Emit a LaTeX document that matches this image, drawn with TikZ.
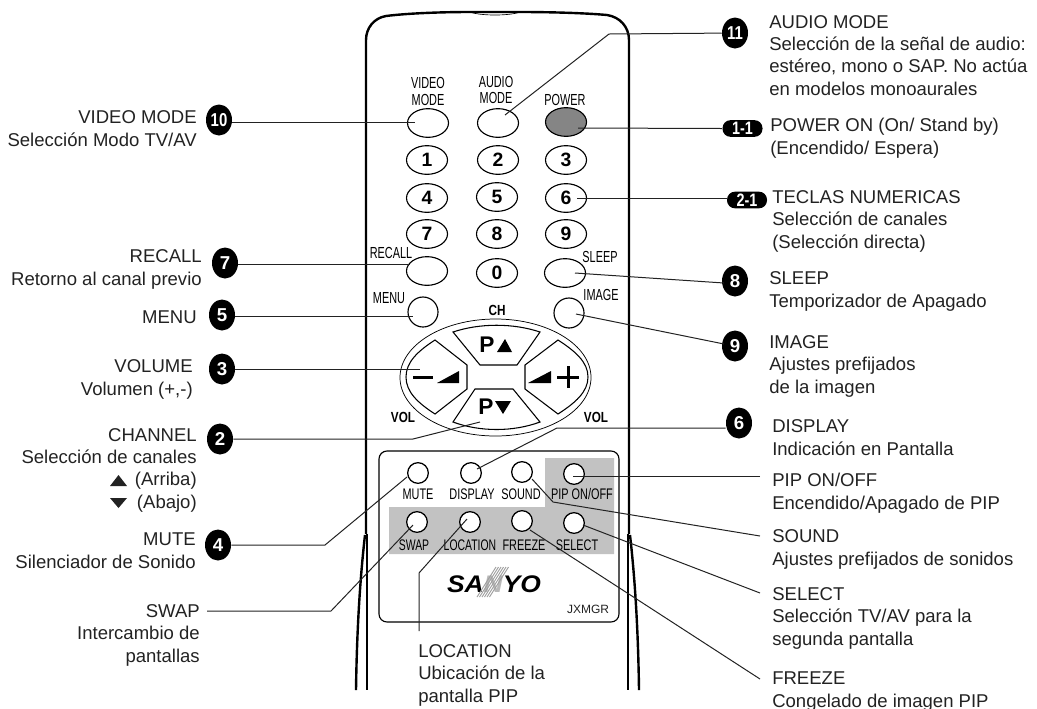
\documentclass[tikz,border=0pt]{standalone}
\usepackage{fontspec}
\setmainfont{Liberation Sans}
\newfontfamily\narf[FakeStretch=0.68]{Liberation Sans}
\newfontfamily\narg[FakeStretch=0.71]{Liberation Sans}
\newfontfamily\narb[FakeStretch=0.8]{Liberation Sans}
\newfontfamily\narc[FakeStretch=0.8]{Liberation Sans}
\newfontfamily\logof[FakeStretch=1.1]{Liberation Sans}
\usetikzlibrary{shapes.geometric}
\definecolor{ink}{HTML}{222222}
\definecolor{panelgray}{HTML}{C2C2C2}
\definecolor{pwrgray}{HTML}{858585}
\tikzset{
  x=0.75pt,y=-0.75pt,
  body/.style={line width=1.8pt,black},
  thinbody/.style={line width=0.9pt,black},
  btn/.style={draw=black,line width=0.85pt,ellipse,inner sep=0pt,minimum width=30.75pt,minimum height=21.5pt,font=\fontsize{14.5}{15}\selectfont\bfseries},
  rbtn/.style={draw=black,line width=0.85pt,circle,inner sep=0pt,minimum size=22.5pt},
  sbtn/.style={draw=black,line width=0.95pt,fill=white,circle,inner sep=0pt,minimum size=15.5pt},
  lab/.style={inner sep=0pt,text=ink,font=\fontsize{13.9}{16.6}\selectfont},
  labl/.style={lab,anchor=base west,align=left},
  labr/.style={lab,anchor=base east,align=right},
  keytxt/.style={inner sep=0pt,anchor=base,text=black,align=center,font=\fontsize{12}{12}\selectfont\narf},
  pantxt/.style={inner sep=0pt,anchor=base,text=black,font=\fontsize{11.5}{12}\selectfont\narg},
  boldtxt/.style={inner sep=0pt,anchor=base,font=\fontsize{11}{12}\selectfont\narb\bfseries},
  badge/.style={ellipse,fill=black,text=white,inner sep=0pt,minimum width=19.5pt,minimum height=23.25pt,font=\fontsize{14}{14}\selectfont\bfseries},
  pill/.style={rectangle,rounded corners=6pt,fill=black,text=white,inner sep=0pt,minimum width=30pt,minimum height=12.5pt,font=\fontsize{13.5}{13.5}\selectfont\bfseries},
  lead/.style={line width=0.75pt,ink},
  rockr/.style={line width=0.8pt,black},
  hatch/.style={line width=0.7pt,gray!75},
}
\begin{document}
\begin{tikzpicture}
\useasboundingbox (0,0) rectangle (1037,708);

% remote body
\draw[body] (366,534) -- (366,40) .. controls (366,28) and (374,18) .. (386,16) .. controls (410,13) and (445,12) .. (470,12) -- (520,12) .. controls (550,12) and (585,13) .. (607,15) .. controls (620,17) and (629,27) .. (629,40) -- (629,534);
\draw[line width=0.5pt] (470,12) .. controls (480,16) and (510,16) .. (520,12);
\draw[thinbody] (367,534) -- (367,690);
\draw[thinbody] (628,534) -- (628,690);
\draw[body] (365,535) .. controls (361,570) and (357,620) .. (356,690);
\draw[body] (630,535) .. controls (634,570) and (638,620) .. (639,690);

% top keys
\node[btn] (videokey) at (428,123) {};
\node[btn] (audiokey) at (498,123) {};
\node[btn,fill=pwrgray] (powerkey) at (566,122) {};
\node[btn] (k1) at (427,160) {1};
\node[btn] (k2) at (498,160) {2};
\node[btn] (k3) at (566,160) {3};
\node[btn] (k4) at (427,198) {4};
\node[btn] (k5) at (497,197) {5};
\node[btn] (k6) at (566,198) {6};
\node[btn] (k7) at (427,234) {7};
\node[btn] (k8) at (497,234) {8};
\node[btn] (k9) at (566,234) {9};
\node[btn] (recallkey) at (427,271) {};
\node[btn] (k0) at (497,273) {0};
\node[btn] (sleepkey) at (565,273) {};
\node[rbtn] (menukey) at (423,312) {};
\node[rbtn] (imagekey) at (569,313) {};

\node[keytxt] (tvideo) at (428,88) {VIDEO};
\node[keytxt] (tvideo2) at (428,105) {MODE};
\node[keytxt] (taudio) at (496,87) {AUDIO};
\node[keytxt] (taudio2) at (496,103) {MODE};
\node[keytxt] (tpower) at (565,105) {POWER};
\node[keytxt] (trecall) at (391,258) {RECALL};
\node[keytxt] (tsleep) at (600,262) {SLEEP};
\node[keytxt] (tmenu) at (389,303) {MENU};
\node[keytxt] (timage) at (601,300) {IMAGE};
\node[boldtxt] (tch) at (497,315) {CH};
\node[boldtxt] (tvol1) at (403,422) {VOL};
\node[boldtxt] (tvol2) at (596,422) {VOL};

% rocker
\draw[line width=0.55pt] (495.5,377.5) ellipse [x radius=95.5,y radius=58.5];
\draw[rockr] (453,332) .. controls (480,323) and (513,323) .. (540,332) -- (517,365) -- (480,365) -- cycle;
\draw[rockr] (453,422) .. controls (480,432) and (513,432) .. (540,422) -- (513,389) -- (475,389) -- cycle;
\draw[rockr] (435,340) -- (467,365) -- (467,389) -- (435,414) .. controls (418,403) and (406,392) .. (406,377) .. controls (406,362) and (418,351) .. (435,340) -- cycle;
\draw[rockr] (558,340) -- (525,365) -- (525,389) -- (558,414) .. controls (575,403) and (588,392) .. (588,377) .. controls (588,362) and (575,351) .. (558,340) -- cycle;
\node[inner sep=0pt,anchor=base,font=\fontsize{17}{17}\selectfont\bfseries] (pup) at (487,352) {P};
\node[inner sep=0pt,anchor=base,font=\fontsize{17}{17}\selectfont\bfseries] (pdn) at (486,414) {P};
\fill (497,352) -- (512,352) -- (505,339) -- cycle;
\fill (495,401) -- (511,401) -- (503,414) -- cycle;
\fill (413,375.5) rectangle (433,378.5);
\fill (437,383) -- (459,371) -- (459,383) -- cycle;
\fill (528,383) -- (551,371) -- (551,383) -- cycle;
\fill (557,375.5) rectangle (579,378.5);
\fill (566.5,366) rectangle (569.5,388);

% PIP panel
\draw[line width=0.85pt,rounded corners=6pt] (379,451) rectangle (619,622);
\fill[panelgray] (545,458) -- (614,458) -- (614,554) -- (389,554) -- (389,507) -- (545,507) -- cycle;
\node[sbtn] (mutekey) at (418,473) {};
\node[sbtn] (dispkey) at (471,473) {};
\node[sbtn] (soundkey) at (522,472) {};
\node[sbtn] (pipkey) at (574,474) {};
\node[sbtn] (swapkey) at (417,522) {};
\node[sbtn] (lockey) at (470,522) {};
\node[sbtn] (frzkey) at (522,521) {};
\node[sbtn] (selkey) at (574,523) {};
\node[pantxt] (tmute) at (418,499) {MUTE};
\node[pantxt] (tdisp) at (472,499) {DISPLAY};
\node[pantxt] (tsound) at (521,499) {SOUND};
\node[pantxt] (tpip) at (582,499) {PIP ON/OFF};
\node[pantxt,font=\fontsize{11.5}{12}\selectfont\narf] (tswap) at (414,550) {SWAP};
\node[pantxt,font=\fontsize{11.5}{12}\selectfont\narf] (tloc) at (470,550) {LOCATION};
\node[pantxt] (tfrz) at (524,550) {FREEZE};
\node[pantxt] (tsel) at (577,550) {SELECT};
\node[inner sep=0pt,anchor=base,font=\fontsize{18}{18}\selectfont\logof\bfseries\itshape] (logo) at (494,592) {SA\textcolor{gray!55}{N}YO};
\foreach \s in {0,2.5,...,12.5}
  \draw[hatch] (477+\s,597) -- (496+\s,567);
\node[inner sep=0pt,anchor=base,text=ink,font=\fontsize{9}{9}\selectfont] (model) at (588,613) {JXMGR};

% badges
\node[badge] (n10) at (219,120) {\fontsize{14}{14}\selectfont\narc\bfseries 10};
\node[badge] (n7) at (225,263) {7};
\node[badge] (n5) at (222,315) {5};
\node[badge] (n3) at (222,369) {3};
\node[badge] (n2) at (220,439) {2};
\node[badge] (n4) at (218,545) {4};
\node[badge] (n11) at (735,33) {\fontsize{14}{14}\selectfont\narc\bfseries 11};
\node[pill] (n11p) at (742.5,128.5) {\narc\bfseries 1-1};
\node[pill] (n21p) at (747,200) {\narc\bfseries 2-1};
\node[badge] (n8) at (735,281) {8};
\node[badge] (n9) at (735,346) {9};
\node[badge] (n6) at (739,423) {6};

% connector ends
\coordinate (evideo) at (415,122);
\coordinate (eaudio) at (505,115);
\coordinate (eaudiob) at (609,34);
\coordinate (epower) at (578,128);
\coordinate (ek6) at (577,198);
\coordinate (erecall) at (410,264);
\coordinate (esleep) at (575,273);
\coordinate (emenu) at (413,316);
\coordinate (eimage) at (576,314);
\coordinate (evol) at (420,369);
\coordinate (echb) at (413,439);
\coordinate (ech) at (480,422);
\coordinate (edispb) at (557,428);
\coordinate (edisp) at (477,469);
\coordinate (emuteb) at (325,545);
\coordinate (emute) at (407,477);
\coordinate (sswap) at (207,611);
\coordinate (eswapb) at (331,611);
\coordinate (eswap) at (413,525);
\coordinate (sloc) at (419,631);
\coordinate (elocb) at (419,573);
\coordinate (eloc) at (467,519);
\coordinate (spip) at (760,476);
\coordinate (epip) at (573,476);
\coordinate (ssound) at (760,536);
\coordinate (esoundb) at (553,502);
\coordinate (esound) at (532,479);
\coordinate (ssel) at (760,593);
\coordinate (esel) at (583,525);
\coordinate (sfrz) at (760,679);
\coordinate (efrz) at (530,530);
\coordinate (n8e) at (724,283);
\coordinate (n9e) at (724,344);

% connectors
\draw[lead] (n10.east |- evideo) -- (evideo);
\draw[lead] (n11) -- (eaudiob) -- (eaudio);
\draw[lead] (n11p.west) -- (epower);
\draw[lead] (n21p.west |- ek6) -- (ek6);
\draw[lead] (n7.east |- erecall) -- (erecall);
\draw[lead] (n8e) -- (esleep);
\draw[lead] (n5.east |- emenu) -- (emenu);
\draw[lead] (n9e) -- (eimage);
\draw[lead] (n3.east) -- (evol);
\draw[lead] (n2.east) -- (echb) -- (ech);
\draw[lead] (n6.west |- edispb) -- (edispb) -- (edisp);
\draw[lead] (n4.east) -- (emuteb) -- (emute);
\draw[lead] (sswap) -- (eswapb) -- (eswap);
\draw[lead] (sloc) -- (elocb) -- (eloc);
\draw[lead] (spip) -- (epip);
\draw[lead] (ssound) -- (esoundb) -- (esound);
\draw[lead] (ssel) -- (esel);
\draw[lead] (sfrz) -- (efrz);

% left texts (the base anchor of a multi-line node is its last line)
\node[labr] (lvideo) at (197,146) {VIDEO MODE\\Selección Modo TV/AV};
\node[labr] (lrecall) at (202,285) {RECALL\\Retorno al canal previo};
\node[labr] (lmenu) at (197,323) {MENU};
\node[labr] (lvol) at (193,395) {VOLUME\\Volumen (+,-)};
\node[labr] (lch) at (197,508) {CHANNEL\\Selección de canales\\(Arriba)\\(Abajo)};
\fill[ink] (110,486) -- (127,486) -- (118.5,475) -- cycle;
\fill[ink] (110,498) -- (127,498) -- (118.5,508) -- cycle;
\node[labr] (lmute) at (196,568) {MUTE\\Silenciador de Sonido};
\node[labr] (lswap) at (200,662) {SWAP\\Intercambio de\\pantallas};
\node[labl] (lloc) at (418,702) {LOCATION\\Ubicación de la\\pantalla PIP};

% right texts
\node[labl] (raudio) at (769,95) {AUDIO MODE\\Selección de la señal de audio:\\estéreo, mono o SAP. No actúa\\en modelos monoaurales};
\node[labl] (rpower) at (770,154) {POWER ON (On/ Stand by)\\(Encendido/ Espera)};
\node[labl] (rkeys) at (772,248) {TECLAS NUMERICAS\\Selección de canales\\(Selección directa)};
\node[labl] (rsleep) at (769,307) {SLEEP\\Temporizador de Apagado};
\node[labl] (rimage) at (769,393) {IMAGE\\Ajustes prefijados\\de la imagen};
\node[labl] (rdisp) at (772,455) {DISPLAY\\Indicación en Pantalla};
\node[labl] (rpip) at (772,509) {PIP ON/OFF\\Encendido/Apagado de PIP};
\node[labl] (rsound) at (772,565) {SOUND\\Ajustes prefijados de sonidos};
\node[labl] (rsel) at (772,645) {SELECT\\Selección TV/AV para la\\segunda pantalla};
\node[labl] (rfrz) at (772,707) {FREEZE\\Congelado de imagen PIP};
\end{tikzpicture}
\end{document}
